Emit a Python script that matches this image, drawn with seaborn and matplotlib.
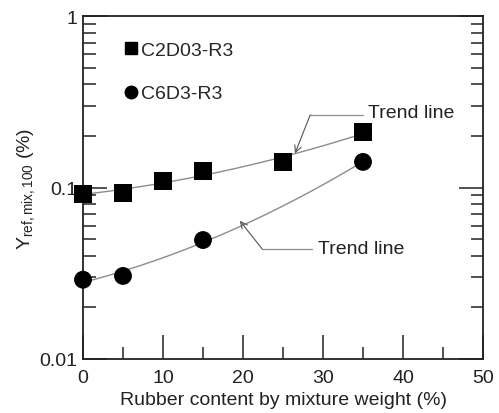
import numpy as np
import pandas as pd
import matplotlib
matplotlib.use("Agg")
import matplotlib.pyplot as plt
from matplotlib.ticker import FixedLocator, NullFormatter, MultipleLocator
from matplotlib.lines import Line2D
import seaborn as sns

# Measured data
rubber_c2d03 = [0, 5, 10, 15, 25, 35]
gamma_c2d03 = [0.092, 0.093, 0.109, 0.125, 0.141, 0.211]
rubber_c6d3 = [0, 5, 15, 35]
gamma_c6d3 = [0.029, 0.0305, 0.0494, 0.141]
series_names = ["C2D03-R3", "C6D3-R3"]
y_tick_labels = ["0.01", "0.1", "1"]

sns.set_theme(style="ticks")
plt.rcParams["font.family"] = ["Liberation Sans", "DejaVu Sans"]
plt.rcParams["mathtext.fontset"] = "custom"
plt.rcParams["mathtext.rm"] = "Liberation Sans"
plt.rcParams["mathtext.it"] = "Liberation Sans"

df = pd.concat([
    pd.DataFrame({"rubber": rubber_c2d03, "gamma": gamma_c2d03, "mix": series_names[0]}),
    pd.DataFrame({"rubber": rubber_c6d3, "gamma": gamma_c6d3, "mix": series_names[1]}),
])

fig = plt.figure(figsize=(4.99, 4.14), dpi=100)
ax = fig.add_axes([83 / 499, 54 / 414, 400 / 499, 343 / 414])
ax.set_yscale("log")

# Quadratic trend lines in log space
for xs, ys in [(rubber_c2d03, gamma_c2d03), (rubber_c6d3, gamma_c6d3)]:
    coef = np.polyfit(xs, np.log10(ys), 2)
    xf = np.linspace(min(xs), max(xs), 200)
    trend = pd.DataFrame({"x": xf, "y": 10 ** np.polyval(coef, xf)})
    sns.lineplot(data=trend, x="x", y="y", ax=ax, color="#8c8c8c", lw=1.0, zorder=2)

sns.scatterplot(data=df, x="rubber", y="gamma", style="mix",
                markers={series_names[0]: "s", series_names[1]: "o"},
                color="black", s=165, edgecolor="black", linewidth=0,
                ax=ax, zorder=3, clip_on=False, legend=False)

ax.set_xlim(0, 50)
ax.set_ylim(0.01, 1)
ax.xaxis.set_major_locator(MultipleLocator(10))
ax.xaxis.set_minor_locator(MultipleLocator(5))
ax.yaxis.set_major_locator(FixedLocator([0.01, 0.1, 1]))
ax.set_yticklabels(y_tick_labels)
minor = [m * d for d in (0.01, 0.1) for m in range(2, 10)]
ax.yaxis.set_minor_locator(FixedLocator(minor))
ax.yaxis.set_minor_formatter(NullFormatter())

ax.tick_params(axis="both", which="both", direction="in", labelsize=14,
               color="#222222", labelcolor="#222222")
ax.tick_params(axis="y", which="both", left=True, right=True)
ax.tick_params(axis="x", which="both", top=False)
ax.tick_params(which="major", length=17, width=1.1)
ax.tick_params(axis="x", which="major", pad=7)
ax.tick_params(axis="y", which="major", pad=4)
ax.tick_params(which="minor", length=9, width=1.1)
for sp in ax.spines.values():
    sp.set_linewidth(1.3)
    sp.set_color("#222222")

ax.set_xlabel("Rubber content by mixture weight (%)", fontsize=14, color="#222222", labelpad=4)
ax.set_ylabel(r"Y$_{\mathregular{ref,mix,100}}$ (%)", fontsize=14, color="#222222", labelpad=2)

handles = [
    Line2D([], [], marker="s", ls="", color="black", markersize=9),
    Line2D([], [], marker="o", ls="", color="black", markersize=9),
]
ax.legend(handles, series_names, loc="upper left", bbox_to_anchor=(0.085, 0.95),
          frameon=False, fontsize=14, handlelength=0.6, handletextpad=0.25,
          labelspacing=1.35, borderaxespad=0)

# Trend line callouts
arrow = dict(arrowstyle="->", color="#555555", lw=0.8, shrinkA=0, shrinkB=0)
ax.plot([35.0, 28.4], [0.265, 0.265], color="#8c8c8c", lw=0.9)
ax.annotate("", xy=(26.5, 0.158), xytext=(28.4, 0.265), arrowprops=arrow)
ax.text(35.6, 0.275, "Trend line", fontsize=14, va="center", ha="left", color="#222222")

ax.plot([28.6, 22.4], [0.0438, 0.0438], color="#8c8c8c", lw=0.9)
ax.annotate("", xy=(19.6, 0.064), xytext=(22.4, 0.0438), arrowprops=arrow)
ax.text(29.4, 0.0438, "Trend line", fontsize=14, va="center", ha="left", color="#222222")

fig.savefig("out.png", dpi=100)
